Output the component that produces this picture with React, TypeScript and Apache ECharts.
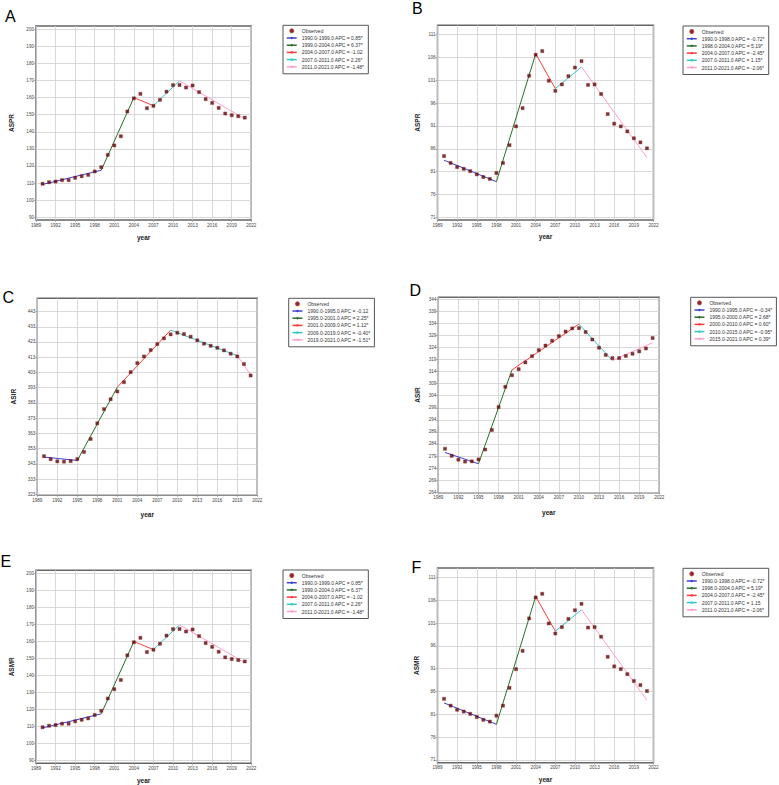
import React, { useEffect, useRef } from 'react';
import * as echarts from 'echarts';

const YEARS = [1990, 1991, 1992, 1993, 1994, 1995, 1996, 1997, 1998, 1999, 2000, 2001, 2002, 2003, 2004, 2005, 2006, 2007, 2008, 2009, 2010, 2011, 2012, 2013, 2014, 2015, 2016, 2017, 2018, 2019, 2020, 2021];

// Panel A (ASPR)
const A_OBS = [109.6, 110.5, 110.9, 111.7, 111.7, 113.1, 114.0, 114.8, 116.8, 119.3, 126.5, 132.0, 137.4, 151.9, 159.6, 162.2, 153.8, 155.2, 158.7, 163.5, 167.3, 167.4, 165.9, 167.1, 163.2, 159.1, 156.9, 154.0, 150.7, 149.7, 149.1, 148.3];
const A_JOIN = [1990, 1999, 2004, 2007, 2011, 2021];
const A_FIT = [109.2, 117.5, 160.0, 155.3, 169.8, 147.6];
const A_LABELS = ['1990.0-1999.0 APC = 0.85*', '1999.0-2004.0 APC = 6.37*', '2004.0-2007.0 APC = -1.02', '2007.0-2011.0 APC = 2.26*', '2011.0-2021.0 APC = -1.48*'];
const A_YTICKS = [90, 100, 110, 120, 130, 140, 150, 160, 170, 180, 190, 200];

// Panel B (ASPR)
const B_OBS = [84.4, 82.9, 82.0, 81.6, 81.1, 80.4, 79.8, 79.4, 80.7, 82.9, 86.8, 90.9, 94.9, 102.0, 106.6, 107.4, 100.9, 98.7, 100.1, 101.9, 103.8, 105.2, 100.0, 100.1, 98.0, 93.6, 91.5, 90.9, 89.8, 88.3, 87.4, 86.1];
const B_JOIN = [1990, 1998, 2004, 2007, 2011, 2021];
const B_FIT = [83.5, 78.8, 106.8, 99.2, 103.9, 84.1];
const B_LABELS = ['1990.0-1998.0 APC = -0.72*', '1998.0-2004.0 APC = 5.19*', '2004.0-2007.0 APC = -2.45*', '2007.0-2011.0 APC = 1.15*', '2011.0-2021.0 APC = -2.06*'];
const B_YTICKS = [71, 76, 81, 86, 91, 96, 101, 106, 111];

// Panel C (ASIR)
const C_OBS = [348.0, 346.0, 344.6, 344.4, 344.8, 346.1, 350.8, 359.3, 369.6, 378.9, 385.4, 390.5, 396.6, 403.2, 409.1, 413.5, 417.7, 421.6, 425.4, 428.0, 429.1, 428.2, 426.5, 424.1, 421.9, 420.5, 419.2, 417.5, 415.3, 413.5, 408.5, 401.0];
const C_JOIN = [1990, 1995, 2001, 2009, 2019, 2021];
const C_FIT = [347.4, 345.2, 393.3, 430.8, 414.0, 401.5];
const C_LABELS = ['1990.0-1995.0 APC = -0.12', '1995.0-2001.0 APC = 2.25*', '2001.0-2009.0 APC = 1.12*', '2009.0-2019.0 APC = -0.40*', '2019.0-2021.0 APC = -1.51*'];
const C_YTICKS = [323, 333, 343, 353, 363, 373, 383, 393, 403, 413, 423, 433, 443];

// Panel D (ASIR)
const D_OBS = [282.0, 279.1, 277.5, 276.7, 276.8, 277.6, 281.7, 289.8, 299.3, 307.7, 312.5, 315.0, 317.8, 320.4, 322.9, 324.8, 326.8, 328.7, 330.6, 331.9, 332.0, 330.4, 327.3, 323.9, 320.9, 319.6, 319.6, 320.5, 321.4, 322.4, 323.6, 327.9];
const D_JOIN = [1990, 1995, 2000, 2010, 2015, 2021];
const D_FIT = [280.5, 275.8, 314.7, 333.7, 318.6, 326.0];
const D_LABELS = ['1990.0-1995.0 APC = -0.34*', '1995.0-2000.0 APC = 2.68*', '2000.0-2010.0 APC = 0.60*', '2010.0-2015.0 APC = -0.95*', '2015.0-2021.0 APC = 0.39*'];
const D_YTICKS = [264, 269, 274, 279, 284, 289, 294, 299, 304, 309, 314, 319, 324, 329, 334, 339, 344];

// Panel E (ASMR)
const E_OBS = [109.6, 110.5, 110.9, 111.7, 111.7, 113.1, 114.0, 114.8, 116.8, 119.3, 126.5, 132.0, 137.4, 151.9, 159.6, 162.2, 153.8, 155.2, 158.7, 163.5, 167.3, 167.4, 165.9, 167.1, 163.2, 159.1, 156.9, 154.0, 150.7, 149.7, 149.1, 148.3];
const E_JOIN = [1990, 1999, 2004, 2007, 2011, 2021];
const E_FIT = [109.2, 117.5, 160.0, 155.3, 169.8, 147.6];
const E_LABELS = ['1990.0-1999.0 APC = 0.85*', '1999.0-2004.0 APC = 6.37*', '2004.0-2007.0 APC = -1.02', '2007.0-2011.0 APC = 2.26*', '2011.0-2021.0 APC = -1.48*'];
const E_YTICKS = [90, 100, 110, 120, 130, 140, 150, 160, 170, 180, 190, 200];

// Panel F (ASMR)
const F_OBS = [84.4, 82.9, 82.0, 81.6, 81.1, 80.4, 79.8, 79.4, 80.7, 82.9, 86.8, 90.9, 94.9, 102.0, 106.6, 107.4, 100.9, 98.7, 100.1, 101.9, 103.8, 105.2, 100.0, 100.1, 98.0, 93.6, 91.5, 90.9, 89.8, 88.3, 87.4, 86.1];
const F_JOIN = [1990, 1998, 2004, 2007, 2011, 2021];
const F_FIT = [83.5, 78.8, 106.8, 99.2, 103.9, 84.1];
const F_LABELS = ['1990.0-1998.0 APC = -0.72*', '1998.0-2004.0 APC = 5.19*', '2004.0-2007.0 APC = -2.45*', '2007.0-2011.0 APC = 1.15', '2011.0-2021.0 APC = -2.06*'];
const F_YTICKS = [71, 76, 81, 86, 91, 96, 101, 106, 111];

const SEG_COLORS = ['#4040d0', '#2a6e2a', '#ff3b3b', '#33c6c6', '#ff9ecf'];
const FONT = '"Liberation Sans", Arial, sans-serif';

const PANELS = [
  { letter: 'A', lx: 5, ly: 16, yName: 'ASPR', obs: A_OBS, join: A_JOIN, fit: A_FIT, labels: A_LABELS, yTicks: A_YTICKS, yMin: 88.4, yMax: 201.9, left: 36, top: 26, width: 215.3, height: 194, legLeft: 283, legTop: 25.3, yGap: 21.5, xGap: 13.7 },
  { letter: 'B', lx: 412, ly: 8.7, yName: 'ASPR', obs: B_OBS, join: B_JOIN, fit: B_FIT, labels: B_LABELS, yTicks: B_YTICKS, yMin: 70.4, yMax: 113.05, left: 437.5, top: 25.3, width: 216, height: 194.7, legLeft: 683, legTop: 26, yGap: 17, xGap: 13.4 },
  { letter: 'C', lx: 2.5, ly: 297.5, yName: 'ASIR', obs: C_OBS, join: C_JOIN, fit: C_FIT, labels: C_LABELS, yTicks: C_YTICKS, yMin: 322.5, yMax: 451.7, left: 37.3, top: 298.3, width: 220, height: 196.7, legLeft: 288.7, legTop: 298.3, yGap: 20, xGap: 15.7 },
  { letter: 'D', lx: 409.5, ly: 290.8, yName: 'ASIR', obs: D_OBS, join: D_JOIN, fit: D_FIT, labels: D_LABELS, yTicks: D_YTICKS, yMin: 263.8, yMax: 344.8, left: 438.3, top: 297.3, width: 221, height: 195.4, legLeft: 690.7, legTop: 297.3, yGap: 17.5, xGap: 16.3 },
  { letter: 'E', lx: 0.5, ly: 561, yName: 'ASMR', obs: E_OBS, join: E_JOIN, fit: E_FIT, labels: E_LABELS, yTicks: E_YTICKS, yMin: 88.4, yMax: 201.9, left: 36, top: 570.3, width: 215.3, height: 194, legLeft: 283, legTop: 570, yGap: 21.5, xGap: 13.7 },
  { letter: 'F', lx: 411.5, ly: 567.8, yName: 'ASMR', obs: F_OBS, join: F_JOIN, fit: F_FIT, labels: F_LABELS, yTicks: F_YTICKS, yMin: 70.4, yMax: 113.05, left: 437.5, top: 568, width: 216, height: 194.7, legLeft: 683, legTop: 568.3, yGap: 17.5, xGap: 13.4 },
];

function buildOption() {
  const grid: any[] = [];
  const xAxis: any[] = [];
  const yAxis: any[] = [];
  const series: any[] = [];
  const legend: any[] = [];
  const graphic: any[] = [];

  PANELS.forEach((p, i) => {
    grid.push({
      left: p.left, top: p.top, width: p.width, height: p.height,
      show: true, backgroundColor: '#ffffff', borderColor: '#666666', borderWidth: 1.4,
      containLabel: false,
    });
    xAxis.push({
      type: 'value', gridIndex: i, min: 1989, max: 2022, interval: 3,
      name: 'year', nameLocation: 'middle', nameGap: p.xGap,
      nameTextStyle: { fontFamily: FONT, fontWeight: 'bold', fontSize: 6.5, color: '#222' },
      axisLine: { show: false },
      axisTick: { show: true, length: 2, lineStyle: { color: '#888', width: 0.6 } },
      axisLabel: { fontFamily: FONT, fontSize: 4.6, color: '#444', margin: 2.5, showMinLabel: true, showMaxLabel: true, formatter: (v: number) => String(v) },
      splitLine: { show: true, lineStyle: { color: '#cfcfcf', width: 0.8 } },
    });
    yAxis.push({
      type: 'value', gridIndex: i, min: p.yMin, max: p.yMax,
      name: p.yName, nameLocation: 'middle', nameGap: p.yGap,
      nameTextStyle: { fontFamily: FONT, fontWeight: 'bold', fontSize: 6.5, color: '#222' },
      axisLine: { show: false },
      axisTick: { show: true, length: 2, customValues: p.yTicks, lineStyle: { color: '#888', width: 0.6 } },
      axisLabel: { fontFamily: FONT, fontSize: 4.6, color: '#444', margin: 2, customValues: p.yTicks, formatter: (v: number) => String(v) },
      splitLine: { show: true, lineStyle: { color: '#cfcfcf', width: 0.8 } },
    });
    for (let s = 0; s < p.join.length - 1; s++) {
      series.push({
        type: 'line', name: p.labels[s], xAxisIndex: i, yAxisIndex: i,
        data: [[p.join[s], p.fit[s]], [p.join[s + 1], p.fit[s + 1]]],
        symbol: 'none', showSymbol: false, z: 2,
        lineStyle: { color: SEG_COLORS[s], width: 1 },
        itemStyle: { color: SEG_COLORS[s] },
        emphasis: { disabled: true }, silent: true,
      });
    }
    series.push({
      type: 'scatter', name: 'Observed', xAxisIndex: i, yAxisIndex: i,
      data: YEARS.map((y, k) => [y, p.obs[k]]),
      symbol: 'rect', symbolSize: 3.1, z: 5,
      itemStyle: { color: '#4e0a0c', borderColor: '#9a1c1c', borderWidth: 0.5 },
      emphasis: { disabled: true }, silent: true,
    });
    legend.push({
      left: p.legLeft, top: p.legTop, orient: 'vertical',
      itemWidth: 10, itemHeight: 3, itemGap: 2.2,
      padding: [3, 4, 4.5, 3],
      borderColor: '#555', borderWidth: 1, backgroundColor: '#ffffff',
      selectedMode: false,
      lineStyle: { width: 1.5 },
      textStyle: { fontFamily: FONT, fontSize: 5, lineHeight: 5, color: '#333' },
      data: [{ name: 'Observed', icon: 'circle' }, ...p.labels],
    });
    graphic.push({
      type: 'text', x: p.lx, y: p.ly,
      style: { text: p.letter, fontFamily: FONT, fontSize: 16, fill: '#000', textAlign: 'left', textVerticalAlign: 'middle' },
    });
  });

  return {
    animation: false,
    backgroundColor: '#ffffff',
    textStyle: { fontFamily: FONT },
    grid, xAxis, yAxis, series, legend, graphic,
  };
}

export default function App() {
  const ref = useRef<HTMLDivElement>(null);
  useEffect(() => {
    document.body.style.margin = '0';
    const chart = echarts.init(ref.current as HTMLDivElement, null, { renderer: 'svg' });
    chart.setOption(buildOption() as any);
    return () => chart.dispose();
  }, []);
  return <div ref={ref} style={{ position: 'fixed', left: 0, top: 0, width: 779, height: 785, background: '#fff' }} />;
}
